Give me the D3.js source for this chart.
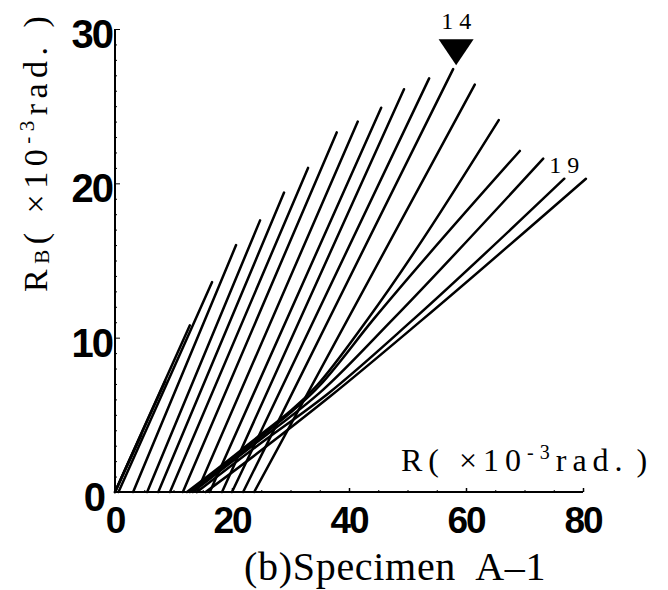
<!DOCTYPE html>
<html>
<head>
<meta charset="utf-8">
<script src="https://cdn.jsdelivr.net/npm/d3@7"></script>
<style>
  html, body { margin: 0; padding: 0; background: #fff; }
  svg { display: block; }
  .tick-label { font-family: "Liberation Sans", Arial, sans-serif; font-weight: bold; fill: #000; }
  .serif { font-family: "Liberation Serif", "DejaVu Serif", serif; fill: #000; }
</style>
</head>
<body>
<svg id="chart" width="668" height="590"></svg>
<script>
// R_B vs R for each loading cycle, specimen A-1 (units: 1e-3 rad)
var cycle_no = d3.range(1, 21);

var branches = [
  [[0, 0], [4.5, 3.7]],
  [[0, 0], [8.6, 7.2]],
  [[0, 0], [12.8, 10.8]],
  [[0.6, 0], [16.6, 13.6]],
  [[3.1, 0], [20.7, 16.0]],
  [[5.5, 0], [24.8, 17.6]],
  [[7.4, 0], [28.9, 19.4]],
  [[9.4, 0], [33.0, 21.0]],
  [[11.6, 0], [37.9, 23.3]],
  [[14.0, 0], [41.5, 24.0]],
  [[16.2, 0], [45.5, 24.9]],
  [[18.3, 0], [49.4, 26.1]],
  [[20.0, 0], [53.7, 26.8]],
  [[21.9, 0], [57.8, 27.4]],
  [[23.8, 0], [61.5, 26.4]],
  [[12.3, 0], [22.5, 3.0], [34.5, 6.9], [43.1, 11.15], [65.6, 24.1]],
  [[12.8, 0], [23.0, 3.0], [35.0, 6.9], [44.1, 11.15], [69.2, 22.1]],
  [[13.3, 0], [23.5, 3.0], [35.5, 6.6], [47.4, 11.15], [73.2, 21.6]],
  [[14.0, 0], [24.0, 2.9], [36.5, 6.4], [50.9, 11.15], [76.8, 20.3]],
  [[15.5, 0], [25.0, 2.7], [36.8, 6.2], [52.5, 11.15], [80.5, 20.3]]
];

var x_ticks = [0, 20, 40, 60, 80];
var y_ticks = [0, 10, 20, 30];
var marked_cycle = 14;   // peak cycle, flagged with a triangle
var last_label = 19;

var svg = d3.select("#chart");

var x = d3.scaleLinear().domain([0, 80]).range([115, 583]);
var y = d3.scaleLinear().domain([0, 30]).range([492, 29]);

// axes: plain lines, small inward ticks
var xAxis = d3.axisBottom(x).tickValues(d3.range(0, 81, 5)).tickSize(-3).tickFormat("");
var yAxis = d3.axisLeft(y).tickValues(d3.range(0, 31, 1)).tickSize(-2).tickFormat("");

var gx = svg.append("g").attr("transform", "translate(0," + y(0) + ")").call(xAxis);
var gy = svg.append("g").attr("transform", "translate(" + x(0) + ",0)").call(yAxis);
gx.select(".domain").attr("d", "M" + x(0) + ",0H" + x(80));
gy.select(".domain").attr("d", "M0," + y(0) + "V" + y(30));
svg.selectAll(".domain").attr("stroke", "#000").attr("stroke-width", 2);
gx.selectAll(".tick line").attr("stroke-width", function(d) { return d % 20 === 0 ? 1.5 : 1; })
  .attr("y2", function(d) { return d % 20 === 0 ? -4 : -2; });
gy.selectAll(".tick line").attr("stroke-width", 1)
  .attr("x2", function(d) { return d % 10 === 0 ? 5 : 2; });

svg.selectAll(".xl").data(x_ticks).enter().append("text")
  .attr("class", "tick-label")
  .attr("x", function(d) { return x(d); })
  .attr("y", 533)
  .attr("text-anchor", "middle")
  .attr("font-size", 37)
  .attr("letter-spacing", -2)
  .text(function(d) { return d; });

svg.selectAll(".yl").data(y_ticks).enter().append("text")
  .attr("class", "tick-label")
  .attr("x", function(d) { return d === 0 ? 104 : 112; })
  .attr("y", function(d) { return y(d) + 19; })
  .attr("text-anchor", "end")
  .attr("font-size", 40)
  .attr("letter-spacing", -2)
  .text(function(d) { return d; });

// one branch per cycle
var line = d3.line()
  .x(function(d) { return x(d[0]); })
  .y(function(d) { return y(d[1]); })
  .curve(d3.curveMonotoneX);

svg.append("g").selectAll("path").data(branches).enter().append("path")
  .attr("d", line)
  .attr("fill", "none")
  .attr("stroke", "#000")
  .attr("stroke-width", 2.5)
  .attr("stroke-linecap", "round");

// marker over the peak cycle
var peak = branches[marked_cycle - 1][branches[marked_cycle - 1].length - 1];
var px = x(peak[0]) + 3, py = y(peak[1]) - 4;
svg.append("path")
  .attr("d", "M" + px + "," + py + "L" + (px - 17.5) + "," + (py - 26) + "L" + (px + 17.5) + "," + (py - 26) + "Z")
  .attr("fill", "#000");
svg.append("text").attr("class", "serif")
  .attr("x", px + 3).attr("y", py - 36)
  .attr("text-anchor", "middle")
  .attr("font-size", 24)
  .attr("letter-spacing", 6)
  .text(marked_cycle);

var lend = branches[last_label - 1][branches[last_label - 1].length - 1];
svg.append("text").attr("class", "serif")
  .attr("x", x(lend[0]) - 15).attr("y", y(lend[1]) - 6)
  .attr("font-size", 24)
  .attr("letter-spacing", 6)
  .text(last_label);

// axis titles
var xt = svg.append("text").attr("class", "serif")
  .attr("x", 401).attr("y", 471)
  .attr("font-size", 32)
  .attr("letter-spacing", 6)
  .attr("xml:space", "preserve");
xt.append("tspan").text("R( ×10");
xt.append("tspan").attr("dy", -12).attr("font-size", 20).text("-3");
xt.append("tspan").attr("dy", 12).text("rad.")
xt.append("tspan").attr("letter-spacing", 0).text(" )");

var yt = svg.append("text").attr("class", "serif")
  .attr("transform", "translate(47,292) rotate(-90)")
  .attr("font-size", 34)
  .attr("letter-spacing", 5.5)
  .attr("xml:space", "preserve");
yt.append("tspan").text("R");
yt.append("tspan").attr("font-size", 21).attr("dy", 2).text("B");
yt.append("tspan").attr("dy", -2).text("( ×10");
yt.append("tspan").attr("dy", -13).attr("font-size", 21).text("-3");
yt.append("tspan").attr("dy", 13).text("rad. )");

svg.append("text").attr("class", "serif")
  .attr("x", 244).attr("y", 580)
  .attr("font-size", 40)
  .attr("letter-spacing", 0.7)
  .attr("xml:space", "preserve")
  .text("(b)Specimen  A\u20131");
</script>
</body>
</html>
